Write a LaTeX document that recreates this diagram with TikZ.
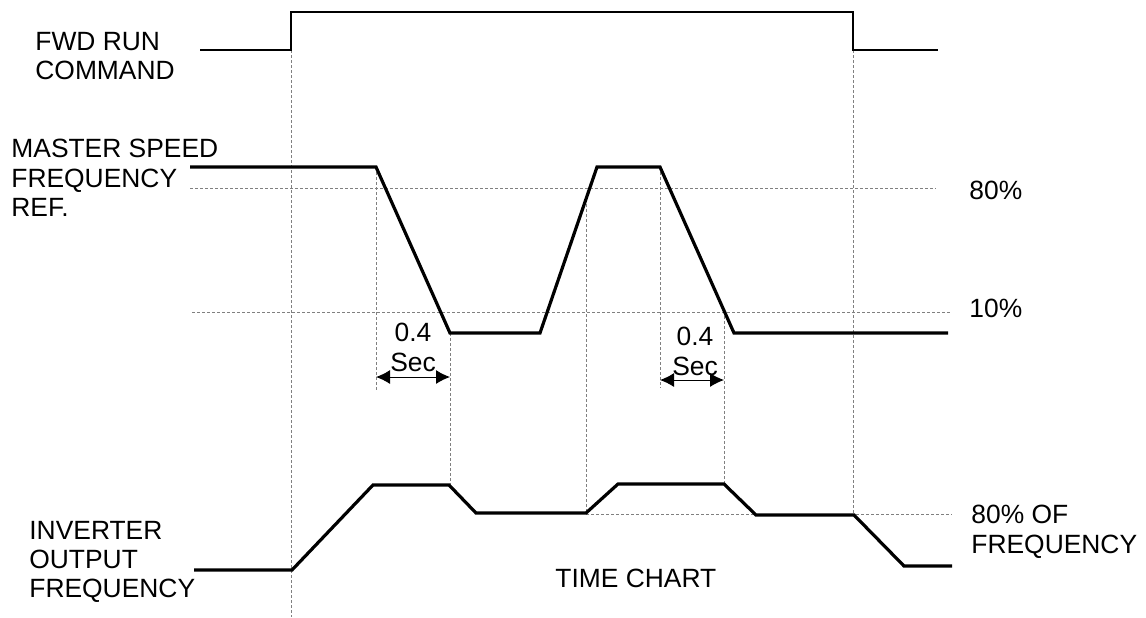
\documentclass[tikz,border=0pt]{standalone}
\usepackage{fontspec}
\setmainfont{Liberation Sans}
\usetikzlibrary{arrows.meta}

\begin{document}
\begin{tikzpicture}[x=0.5pt,y=-0.5pt,
	sig/.style={line width=1.6pt},
	cmd/.style={line width=0.7pt},
	guide/.style={gray, line width=0.4pt, dash pattern=on 1.5pt off 1pt},
	lbl/.style={anchor=north west, inner sep=0pt, align=left, font=\fontsize{13.2}{14.6}\selectfont},
	dur/.style={anchor=north, inner sep=0pt, align=center, font=\fontsize{13.2}{15}\selectfont},
	gap/.style={{Latex[length=7pt,width=7pt]}-{Latex[length=7pt,width=7pt]}, line width=0.5pt}]
	\useasboundingbox (0,0) rectangle (1146,617);

	% guide lines
	\draw[guide] (190,188) -- (936,188);
	\draw[guide] (192,312) -- (950,312);
	\draw[guide] (586,514) -- (952,514);
	\draw[guide] (291,50) -- (291,617);
	\draw[guide] (853,50) -- (853,514);
	\draw[guide] (376,167) -- (376,390);
	\draw[guide] (450,333) -- (450,486);
	\draw[guide] (586,199) -- (586,514);
	\draw[guide] (660,167) -- (660,388);
	\draw[guide] (724,311) -- (724,484);

	% signals
	\draw[cmd] (200,50) -- (291,50) -- (291,12) -- (853,12) -- (853,50) -- (938,50);
	\draw[sig] (190,167) -- (376,167) -- (450,333) -- (540,333) -- (597,167)
		-- (660,167) -- (734,333) -- (948,333);
	\draw[sig] (194,570) -- (292,570) -- (373,485) -- (449,485) -- (476,513)
		-- (586,513) -- (618,484) -- (724,484) -- (756,515) -- (854,515)
		-- (904,566) -- (952,566);

	% 0.4 Sec marks
	\coordinate (d1a) at (376,377);
	\coordinate (d1b) at (450,377);
	\coordinate (d2a) at (660,380);
	\coordinate (d2b) at (724,380);
	\draw[gap] (d1a) -- (d1b);
	\draw[gap] (d2a) -- (d2b);
	\node[dur] (dur1) at (413,323) {0.4\\Sec};
	\node[dur] (dur2) at (695,327) {0.4\\Sec};

	% labels
	\node[lbl] (fwd) at (35,32) {FWD RUN\\COMMAND};
	\node[lbl] (master) at (11,139) {MASTER SPEED\\FREQUENCY\\REF.};
	\node[lbl] (inv) at (29,521) {INVERTER\\OUTPUT\\FREQUENCY};
	\node[lbl] (hi) at (969,181) {80\%};
	\node[lbl] (lo) at (969,299) {10\%};
	\node[lbl] (ofreq) at (971,505) {80\% OF\\FREQUENCY};
	\node[lbl] (title) at (555,569) {TIME CHART};
\end{tikzpicture}
\end{document}
